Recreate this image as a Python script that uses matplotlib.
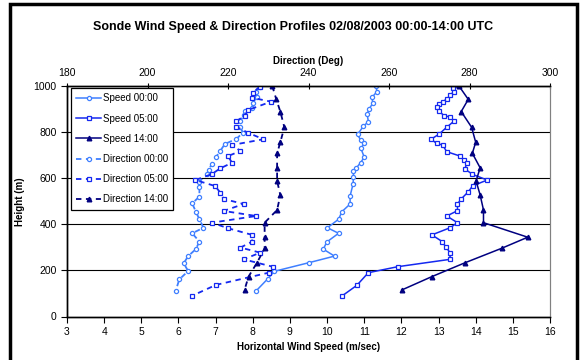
import matplotlib
matplotlib.use("Agg")
import matplotlib.pyplot as plt
from matplotlib.patches import Rectangle

plt.rcParams['font.family'] = ['Liberation Sans', 'DejaVu Sans']

# ---- data ----
h_spd_00 = [1000, 975, 951, 925, 900, 878, 845, 826, 790, 766, 751, 730, 691, 667,
            643, 631, 607, 575, 523, 488, 455, 422, 385, 361, 323, 292, 262, 233,
            196, 163, 111]
spd_00 = [11.32, 11.34, 11.21, 11.23, 11.13, 11.08, 11.11, 10.98, 10.82, 10.90, 11.0,
          10.91, 11.0, 10.9, 10.78, 10.71, 10.71, 10.70, 10.62, 10.62, 10.40, 10.31,
          10.01, 10.31, 9.99, 9.90, 10.20, 9.50, 8.58, 8.40, 8.09]

h_spd_05 = [1000, 990, 975, 962, 945, 932, 921, 908, 893, 871, 866, 848, 821, 792,
            769, 751, 744, 715, 696, 679, 665, 640, 617, 592, 567, 541, 510, 488,
            459, 436, 407, 385, 354, 325, 303, 277, 248, 216, 190, 135, 90]
spd_05 = [13.55, 13.40, 13.42, 13.31, 13.24, 13.11, 13.0, 12.97, 13.0, 13.15, 13.31,
          13.42, 13.22, 13.02, 12.80, 12.95, 13.11, 13.22, 13.58, 13.69, 13.76, 13.71,
          13.91, 14.31, 13.92, 13.80, 13.61, 13.51, 13.51, 13.22, 13.51, 13.31, 12.82,
          13.10, 13.19, 13.31, 13.31, 11.90, 11.11, 10.80, 10.41]

h_14 = [1000, 942, 889, 821, 756, 708, 645, 588, 527, 462, 407, 344, 296, 233, 173, 115]
spd_14 = [13.55, 13.80, 13.61, 13.89, 14.0, 13.91, 14.12, 14.01, 14.12, 14.21, 14.21,
          15.40, 14.70, 13.71, 12.82, 12.01]
dir_14 = [231.0, 232.0, 233.0, 234.0, 233.0, 232.2, 232.2, 232.2, 233.0, 232.2, 229.1,
          229.1, 229.1, 227.2, 225.1, 224.1]

h_dir_00 = [997, 975, 951, 925, 903, 893, 874, 848, 821, 797, 771, 748, 719, 691, 662,
            636, 618, 585, 561, 520, 491, 455, 422, 385, 361, 325, 292, 262, 231, 197,
            161, 111]
dir_00 = [227.9, 227.0, 227.2, 226.2, 226.0, 224.1, 223.9, 223.1, 223.1, 223.7, 222.1,
          219.2, 218.1, 217.0, 216.0, 215.2, 214.8, 212.9, 212.9, 212.9, 211.1, 212.0,
          212.9, 213.9, 211.1, 212.9, 212.0, 210.1, 209.0, 210.1, 207.9, 207.0]

h_dir_05 = [997, 971, 949, 932, 896, 870, 848, 823, 797, 769, 744, 718, 696, 667, 643,
            618, 592, 566, 537, 510, 488, 458, 436, 407, 383, 354, 325, 299, 277, 248,
            216, 190, 137, 90]
dir_05 = [227.9, 226.1, 226.0, 230.7, 225.0, 224.1, 222.1, 222.1, 225.0, 228.8, 221.0,
          223.1, 220.0, 221.0, 218.1, 216.0, 211.9, 216.8, 218.1, 218.9, 223.9, 218.9,
          227.0, 216.0, 220.0, 226.0, 226.0, 223.1, 228.0, 223.9, 231.1, 230.1, 217.0,
          211.1]

c00 = '#3F7FFF'
c05 = '#1428F0'
c14 = '#000080'

fig = plt.figure(figsize=(5.88, 3.60), dpi=100)
ax = fig.add_axes([67/588, 1-316.5/360, 483/588, 230.5/360])
ax2 = ax.twiny()

dash = (0, (3, 2.5))
l1, = ax.plot(spd_00, h_spd_00, color=c00, lw=1.1, marker='o', ms=3,
              mfc='white', mec=c00, mew=0.9, label='Speed 00:00')
l2, = ax.plot(spd_05, h_spd_05, color=c05, lw=1.1, marker='s', ms=3.3,
              mfc='white', mec=c05, mew=0.9, label='Speed 05:00')
l3, = ax.plot(spd_14, h_14, color=c14, lw=1.1, marker='^', ms=3.3,
              mfc=c14, mec=c14, label='Speed 14:00')
l4, = ax2.plot(dir_00, h_dir_00, color=c00, lw=1.3, ls=dash, marker='o', ms=3,
               mfc='white', mec=c00, mew=0.9, label='Direction 00:00')
l5, = ax2.plot(dir_05, h_dir_05, color=c05, lw=1.3, ls=dash, marker='s', ms=3.3,
               mfc='white', mec=c05, mew=0.9, label='Direction 05:00')
l6, = ax2.plot(dir_14, h_14, color=c14, lw=1.3, ls=dash, marker='^', ms=3.3,
               mfc=c14, mec=c14, label='Direction 14:00')

ax.set_xlim(3, 16)
ax.set_ylim(0, 1000)
ax.set_xticks(range(3, 17))
ax.set_yticks(range(0, 1001, 200))
ax2.set_xlim(180, 300)
ax2.set_xticks(range(180, 301, 20))

for y in range(200, 1001, 200):
    ax.axhline(y, color='black', lw=0.8, zorder=0)

for a in (ax, ax2):
    a.spines['right'].set_color('#808080')
    for s in ('left', 'bottom', 'top'):
        a.spines[s].set_color('black')
        a.spines[s].set_linewidth(1.0)
ax.tick_params(axis='both', labelsize=7.5, length=4, width=0.8, direction='out')
ax2.tick_params(axis='x', labelsize=7.5, length=5, width=0.8, direction='inout', pad=3)

ax.set_xlabel('Horizontal Wind Speed (m/sec)', fontsize=7, fontweight='bold', labelpad=4)
ax.set_ylabel('Height (m)', fontsize=7, fontweight='bold', labelpad=6)
ax2.set_xlabel('Direction (Deg)', fontsize=7, fontweight='bold', labelpad=3)

fig.text(293/588, 1-27/360, 'Sonde Wind Speed & Direction Profiles 02/08/2003 00:00-14:00 UTC',
         ha='center', va='center', fontsize=9, fontweight='bold')

leg = ax2.legend(handles=[l1, l2, l3, l4, l5, l6], loc='upper left',
                 bbox_to_anchor=(4/483, 1 - 2/230.5), fontsize=7,
                 frameon=True, fancybox=False, edgecolor='black',
                 framealpha=1, borderpad=0.55, labelspacing=1.05,
                 handlelength=2.5, handletextpad=0.2, borderaxespad=0)
leg.get_frame().set_linewidth(0.9)

fig.patches.append(Rectangle((10/588, -0.05), 567/588, 1 - 4/360 + 0.05,
                             transform=fig.transFigure, fill=False,
                             edgecolor='black', lw=2.5))

fig.savefig('out.png', dpi=100)
